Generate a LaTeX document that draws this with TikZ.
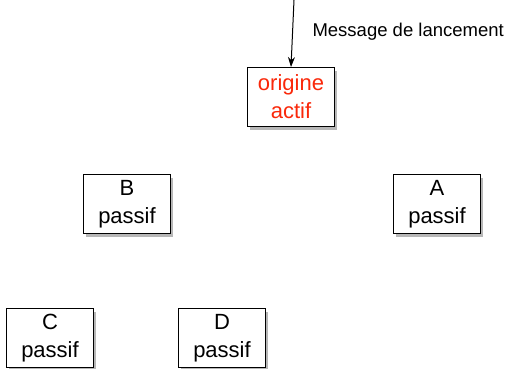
\documentclass[tikz,border=0pt]{standalone}
\usepackage{fontspec}
\setmainfont{Liberation Sans}
\usetikzlibrary{arrows.meta, positioning, shadows}

\definecolor{rougeactif}{RGB}{250,40,10}

\begin{document}
\begin{tikzpicture}
[
    x=1pt, y=-1pt,
    box/.style={
        draw,
        rectangle,
        fill=white,
        line width=1pt,
        minimum width=87pt,
        minimum height=59pt,
        align=center,
        font=\fontsize{22}{28}\selectfont,
        drop shadow={shadow xshift=2pt, shadow yshift=-3pt, opacity=0.4, fill=black!70},
    },
    arrow/.style={-{Stealth[length=10pt,width=7pt]}, line width=1pt}
]
\useasboundingbox (0,0) rectangle (516,368);

% Define the nodes
\node[box, text=rougeactif] (origine) at (291,97) {origine\\actif};
\node[box] (B) at (127,204) {B\\passif};
\node[box] (A) at (437,204) {A\\passif};
\node[box] (C) at (50,338) {C\\passif};
\node[box] (D) at (222,338) {D\\passif};

% Launch message
\coordinate (lancement) at (294,0);
\draw[arrow] (lancement) -- (origine.north);
\node[anchor=west, font=\fontsize{18.5}{22}\selectfont] at (309,32) {Message de lancement};

\end{tikzpicture}
\end{document}
